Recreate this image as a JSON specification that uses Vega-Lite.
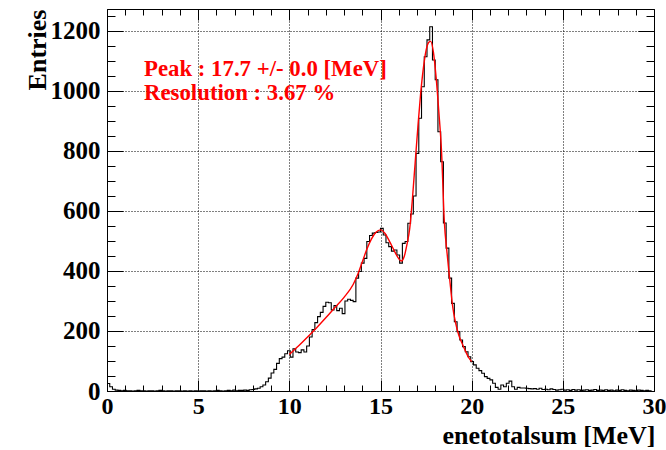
{
  "$schema": "https://vega.github.io/schema/vega-lite/v6.json",
  "width": 547,
  "height": 382,
  "autosize": {"type": "none"},
  "padding": {"left": 107, "top": 9, "right": 12, "bottom": 59},
  "background": "white",
  "config": {
    "view": {"stroke": "black", "strokeWidth": 1},
    "axis": {"labelFont": "Liberation Serif", "titleFont": "Liberation Serif", "labelColor": "black", "titleColor": "black", "tickColor": "black", "tickWidth": 1}
  },
  "resolve": {"axis": {"x": "independent", "y": "independent"}},
  "layer": [
    {
      "data": {"values": [
        {"lo":0.00,"n":25},{"lo":0.15,"n":14},{"lo":0.30,"n":6},{"lo":0.45,"n":3},{"lo":0.60,"n":2},{"lo":0.75,"n":1},{"lo":0.90,"n":2},{"lo":1.05,"n":1},{"lo":1.20,"n":1},{"lo":1.35,"n":0},
        {"lo":1.50,"n":1},{"lo":1.65,"n":2},{"lo":1.80,"n":1},{"lo":1.95,"n":1},{"lo":2.10,"n":0},{"lo":2.25,"n":1},{"lo":2.40,"n":1},{"lo":2.55,"n":0},{"lo":2.70,"n":1},{"lo":2.85,"n":2},
        {"lo":3.00,"n":1},{"lo":3.15,"n":0},{"lo":3.30,"n":1},{"lo":3.45,"n":1},{"lo":3.60,"n":0},{"lo":3.75,"n":1},{"lo":3.90,"n":1},{"lo":4.05,"n":0},{"lo":4.20,"n":1},{"lo":4.35,"n":0},
        {"lo":4.50,"n":1},{"lo":4.65,"n":0},{"lo":4.80,"n":1},{"lo":4.95,"n":0},{"lo":5.10,"n":1},{"lo":5.25,"n":1},{"lo":5.40,"n":0},{"lo":5.55,"n":1},{"lo":5.70,"n":0},{"lo":5.85,"n":1},
        {"lo":6.00,"n":2},{"lo":6.15,"n":1},{"lo":6.30,"n":0},{"lo":6.45,"n":1},{"lo":6.60,"n":2},{"lo":6.75,"n":1},{"lo":6.90,"n":3},{"lo":7.05,"n":1},{"lo":7.20,"n":2},{"lo":7.35,"n":2},
        {"lo":7.50,"n":3},{"lo":7.65,"n":2},{"lo":7.80,"n":4},{"lo":7.95,"n":5},{"lo":8.10,"n":7},{"lo":8.25,"n":9},{"lo":8.40,"n":14},{"lo":8.55,"n":20},{"lo":8.70,"n":31},{"lo":8.85,"n":43},
        {"lo":9.00,"n":60},{"lo":9.15,"n":72},{"lo":9.30,"n":92},{"lo":9.45,"n":108},{"lo":9.60,"n":113},{"lo":9.75,"n":124},{"lo":9.90,"n":134},{"lo":10.05,"n":113},{"lo":10.20,"n":141},{"lo":10.35,"n":130},
        {"lo":10.50,"n":128},{"lo":10.65,"n":137},{"lo":10.80,"n":130},{"lo":10.95,"n":150},{"lo":11.10,"n":180},{"lo":11.25,"n":205},{"lo":11.40,"n":228},{"lo":11.55,"n":248},{"lo":11.70,"n":262},{"lo":11.85,"n":282},
        {"lo":12.00,"n":296},{"lo":12.15,"n":294},{"lo":12.30,"n":270},{"lo":12.45,"n":285},{"lo":12.60,"n":268},{"lo":12.75,"n":276},{"lo":12.90,"n":258},{"lo":13.05,"n":300},{"lo":13.20,"n":306},{"lo":13.35,"n":302},
        {"lo":13.50,"n":298},{"lo":13.65,"n":376},{"lo":13.80,"n":398},{"lo":13.95,"n":426},{"lo":14.10,"n":442},{"lo":14.25,"n":498},{"lo":14.40,"n":518},{"lo":14.55,"n":526},{"lo":14.70,"n":528},{"lo":14.85,"n":530},
        {"lo":15.00,"n":542},{"lo":15.15,"n":520},{"lo":15.30,"n":494},{"lo":15.45,"n":481},{"lo":15.60,"n":466},{"lo":15.75,"n":470},{"lo":15.90,"n":453},{"lo":16.05,"n":426},{"lo":16.20,"n":492},{"lo":16.35,"n":498},
        {"lo":16.50,"n":559},{"lo":16.65,"n":590},{"lo":16.80,"n":650},{"lo":16.95,"n":792},{"lo":17.10,"n":909},{"lo":17.25,"n":1014},{"lo":17.40,"n":1114},{"lo":17.55,"n":1170},{"lo":17.70,"n":1214},{"lo":17.85,"n":1103},
        {"lo":18.00,"n":1037},{"lo":18.15,"n":864},{"lo":18.30,"n":764},{"lo":18.45,"n":560},{"lo":18.60,"n":476},{"lo":18.75,"n":376},{"lo":18.90,"n":292},{"lo":19.05,"n":231},{"lo":19.20,"n":198},{"lo":19.35,"n":170},
        {"lo":19.50,"n":148},{"lo":19.65,"n":131},{"lo":19.80,"n":114},{"lo":19.95,"n":98},{"lo":20.10,"n":87},{"lo":20.25,"n":76},{"lo":20.40,"n":68},{"lo":20.55,"n":59},{"lo":20.70,"n":48},{"lo":20.85,"n":42},
        {"lo":21.00,"n":37},{"lo":21.15,"n":26},{"lo":21.30,"n":12},{"lo":21.45,"n":6},{"lo":21.60,"n":20},{"lo":21.75,"n":14},{"lo":21.90,"n":26},{"lo":22.05,"n":33},{"lo":22.20,"n":14},{"lo":22.35,"n":6},
        {"lo":22.50,"n":12},{"lo":22.65,"n":10},{"lo":22.80,"n":10},{"lo":22.95,"n":9},{"lo":23.10,"n":8},{"lo":23.25,"n":7},{"lo":23.40,"n":8},{"lo":23.55,"n":6},{"lo":23.70,"n":9},{"lo":23.85,"n":5},
        {"lo":24.00,"n":6},{"lo":24.15,"n":4},{"lo":24.30,"n":7},{"lo":24.45,"n":5},{"lo":24.60,"n":3},{"lo":24.75,"n":4},{"lo":24.90,"n":6},{"lo":25.05,"n":3},{"lo":25.20,"n":4},{"lo":25.35,"n":2},
        {"lo":25.50,"n":5},{"lo":25.65,"n":3},{"lo":25.80,"n":4},{"lo":25.95,"n":2},{"lo":26.10,"n":3},{"lo":26.25,"n":4},{"lo":26.40,"n":2},{"lo":26.55,"n":3},{"lo":26.70,"n":5},{"lo":26.85,"n":2},
        {"lo":27.00,"n":3},{"lo":27.15,"n":2},{"lo":27.30,"n":4},{"lo":27.45,"n":2},{"lo":27.60,"n":3},{"lo":27.75,"n":1},{"lo":27.90,"n":3},{"lo":28.05,"n":2},{"lo":28.20,"n":4},{"lo":28.35,"n":2},
        {"lo":28.50,"n":1},{"lo":28.65,"n":3},{"lo":28.80,"n":2},{"lo":28.95,"n":1},{"lo":29.10,"n":3},{"lo":29.25,"n":2},{"lo":29.40,"n":1},{"lo":29.55,"n":2},{"lo":29.70,"n":1},{"lo":29.85,"n":2}
      ]},
      "mark": {"type": "line", "interpolate": "step-after", "color": "black", "strokeWidth": 1.1},
      "encoding": {
        "x": {"field": "lo", "type": "quantitative", "scale": {"domain": [0, 30], "nice": false, "zero": false},
          "axis": {
            "orient": "bottom", "domain": false, "format": "d",
            "values": [0,1,2,3,4,5,6,7,8,9,10,11,12,13,14,15,16,17,18,19,20,21,22,23,24,25,26,27,28,29,30],
            "tickSize": {"condition": {"test": "datum.value % 5 === 0", "value": -11}, "value": -6},
            "grid": true, "gridColor": "black", "gridDash": [1, 2], "gridWidth": 1,
            "gridOpacity": {"condition": {"test": "datum.value % 5 === 0", "value": 1}, "value": 0},
            "labelExpr": "datum.value % 5 === 0 ? datum.label : ''",
            "labelFontSize": 24, "labelFontWeight": "bold", "labelPadding": 14, "labelBaseline": "top",
            "labelFlush": false, "labelOverlap": false,
            "title": "enetotalsum [MeV]", "titleFontSize": 26, "titleFontWeight": "bold",
            "titleAnchor": "end", "titleAlign": "right", "titleX": 548, "titleY": 52, "titleBaseline": "alphabetic"
          }
        },
        "y": {"field": "n", "type": "quantitative", "scale": {"domain": [0, 1273], "nice": false},
          "axis": {
            "orient": "left", "domain": false, "format": "d",
            "values": [0,50,100,150,200,250,300,350,400,450,500,550,600,650,700,750,800,850,900,950,1000,1050,1100,1150,1200,1250],
            "tickSize": {"condition": {"test": "datum.value % 200 === 0", "value": -16}, "value": -8},
            "grid": true, "gridColor": "black", "gridDash": [1, 2], "gridWidth": 1,
            "gridOpacity": {"condition": {"test": "datum.value % 200 === 0", "value": 1}, "value": 0},
            "labelExpr": "datum.value % 200 === 0 ? datum.label : ''",
            "labelFontSize": 25, "labelFontWeight": "bold", "labelPadding": 23, "labelBaseline": "middle",
            "labelFlush": false, "labelOverlap": false,
            "title": "Entries", "titleFontSize": 26, "titleFontWeight": "bold",
            "titleAngle": 270, "titleAlign": "right", "titleBaseline": "alphabetic", "titleX": -62, "titleY": 0
          }
        }
      }
    },
    {
      "data": {"values": [
        {"e":10.0,"fit":122},{"e":10.5,"fit":150},{"e":11.0,"fit":180},{"e":11.5,"fit":211},{"e":12.0,"fit":244},{"e":12.5,"fit":278},{"e":13.0,"fit":312},{"e":13.5,"fit":355},{"e":13.75,"fit":388},{"e":14.0,"fit":430},
        {"e":14.25,"fit":472},{"e":14.5,"fit":506},{"e":14.75,"fit":529},{"e":15.0,"fit":537},{"e":15.25,"fit":525},{"e":15.5,"fit":498},{"e":15.75,"fit":468},{"e":16.0,"fit":441},{"e":16.15,"fit":433},{"e":16.3,"fit":448},
        {"e":16.45,"fit":488},{"e":16.6,"fit":540},{"e":16.75,"fit":640},{"e":16.9,"fit":760},{"e":17.05,"fit":880},{"e":17.2,"fit":990},{"e":17.35,"fit":1075},{"e":17.5,"fit":1135},{"e":17.65,"fit":1162},{"e":17.75,"fit":1165},
        {"e":17.9,"fit":1130},{"e":18.05,"fit":1045},{"e":18.2,"fit":930},{"e":18.35,"fit":795},{"e":18.5,"fit":565},{"e":18.65,"fit":460},{"e":18.8,"fit":370},{"e":18.95,"fit":285},{"e":19.1,"fit":232},{"e":19.3,"fit":185},
        {"e":19.5,"fit":155},{"e":19.7,"fit":128},{"e":19.85,"fit":110},{"e":20.0,"fit":98}
      ]},
      "mark": {"type": "line", "interpolate": "monotone", "color": "#ff0000", "strokeWidth": 1.4},
      "encoding": {
        "x": {"field": "e", "type": "quantitative",
          "axis": {
            "orient": "top", "domain": false, "labels": false, "grid": false, "title": null,
            "values": [0,1,2,3,4,5,6,7,8,9,10,11,12,13,14,15,16,17,18,19,20,21,22,23,24,25,26,27,28,29,30],
            "tickSize": {"condition": {"test": "datum.value % 5 === 0", "value": -11}, "value": -6}
          }
        },
        "y": {"field": "fit", "type": "quantitative",
          "axis": {
            "orient": "right", "domain": false, "labels": false, "grid": false, "title": null,
            "values": [0,50,100,150,200,250,300,350,400,450,500,550,600,650,700,750,800,850,900,950,1000,1050,1100,1150,1200,1250],
            "tickSize": {"condition": {"test": "datum.value % 200 === 0", "value": -16}, "value": -8}
          }
        }
      }
    },
    {
      "data": {"values": [{}]},
      "mark": {"type": "text", "text": "Peak : 17.7 +/- 0.0 [MeV]", "font": "Liberation Serif", "fontWeight": "bold", "fontSize": 22.8, "color": "#ff0000", "align": "left", "baseline": "alphabetic"},
      "encoding": {
        "x": {"datum": 2.03, "type": "quantitative", "axis": null},
        "y": {"datum": 1050, "type": "quantitative", "axis": null}
      }
    },
    {
      "data": {"values": [{}]},
      "mark": {"type": "text", "text": "Resolution : 3.67 %", "font": "Liberation Serif", "fontWeight": "bold", "fontSize": 22.8, "color": "#ff0000", "align": "left", "baseline": "alphabetic"},
      "encoding": {
        "x": {"datum": 2.03, "type": "quantitative", "axis": null},
        "y": {"datum": 970, "type": "quantitative", "axis": null}
      }
    }
  ]
}
